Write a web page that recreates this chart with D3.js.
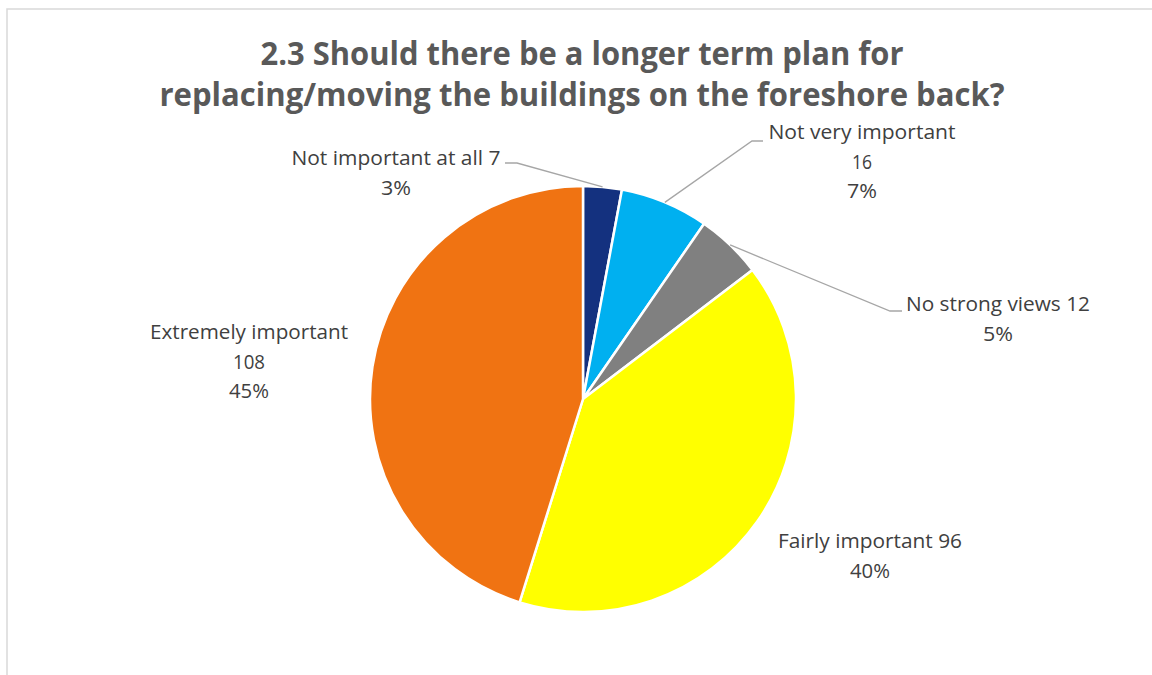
<!DOCTYPE html>
<html>
<head>
<meta charset="utf-8">
<script src="https://cdn.jsdelivr.net/npm/d3@7"></script>
<style>
  html, body { margin: 0; padding: 0; background: #ffffff; }
  svg { display: block; }
</style>
</head>
<body>
<svg id="chart" width="1152" height="675"></svg>
<script>
// Survey responses, in the order the slices run clockwise from 12 o'clock
const categories = ["Not important at all", "Not very important", "No strong views", "Fairly important", "Extremely important"];
const counts = [7, 16, 12, 96, 108];
const sliceColors = ["#14317f", "#00b0f0", "#808080", "#ffff00", "#f07312"];

// Label text lines (name, count, share) as they are printed
const labelLines = [
  ["Not important at all 7", "3%"],
  ["Not very important", "16", "7%"],
  ["No strong views 12", "5%"],
  ["Fairly important 96", "40%"],
  ["Extremely important", "108", "45%"]
];

const titleLines = [
  "2.3 Should there be a longer term plan for",
  "replacing/moving the buildings on the foreshore back?"
];

// Label placement: centre x, first baseline, line widths, optional leader elbow
const labelLayout = [
  { x: 396, y: 165, widths: [209, 30], leader: [[505, 163], [517, 163]] },
  { x: 862, y: 139, widths: [187, 20, 30], leader: [[763, 141], [752, 141]] },
  { x: 998, y: 311, widths: [184, 30], leader: [[902, 311], [890, 311]] },
  { x: 870, y: 548, widths: [184, 40] },
  { x: 249, y: 339, widths: [198, 32, 40] }
];

const svg = d3.select("#chart");
const W = 1152, H = 675;
const cx = 583, cy = 399, radius = 213;
const lineGap = 29.5;

// Outer chart frame (runs off the right and bottom edges)
svg.append("rect")
  .attr("x", 7).attr("y", 9)
  .attr("width", W + 20).attr("height", H + 20)
  .attr("fill", "#ffffff")
  .attr("stroke", "#d9d9d9")
  .attr("stroke-width", 1.5);

// Title
const titleWidths = [643, 845];
svg.append("g").selectAll("text")
  .data(titleLines)
  .join("text")
  .attr("x", 582)
  .attr("y", (d, i) => 65 + i * 40.5)
  .attr("text-anchor", "middle")
  .attr("font-family", "'Open Sans', 'Noto Sans', sans-serif")
  .attr("font-weight", 700)
  .attr("font-size", 32.5)
  .attr("fill", "#595959")
  .attr("textLength", (d, i) => titleWidths[i])
  .attr("lengthAdjust", "spacingAndGlyphs")
  .text(d => d);

// Pie
const pie = d3.pie().sort(null).value(d => d)(counts);
const arc = d3.arc().innerRadius(0).outerRadius(radius);
const edgeArc = d3.arc().innerRadius(radius).outerRadius(radius);

const g = svg.append("g").attr("transform", `translate(${cx},${cy})`);
g.selectAll("path")
  .data(pie)
  .join("path")
  .attr("d", arc)
  .attr("fill", (d, i) => sliceColors[i])
  .attr("stroke", "#ffffff")
  .attr("stroke-width", 2.5)
  .attr("stroke-linejoin", "round");

// Leader lines from the slice edge to the label
const leaderGroup = svg.append("g");
pie.forEach((d, i) => {
  const lay = labelLayout[i];
  if (!lay.leader) return;
  const [ex, ey] = edgeArc.centroid(d);
  const pts = [lay.leader[0], lay.leader[1], [cx + ex, cy + ey]];
  leaderGroup.append("path")
    .attr("d", d3.line()(pts))
    .attr("fill", "none")
    .attr("stroke", "#a6a6a6")
    .attr("stroke-width", 1.3);
});

// Data labels
const labelGroup = svg.append("g");
labelLines.forEach((lines, i) => {
  const lay = labelLayout[i];
  const t = labelGroup.append("g");
  lines.forEach((line, j) => {
    t.append("text")
      .attr("x", lay.x)
      .attr("y", lay.y + j * lineGap)
      .attr("text-anchor", "middle")
      .attr("font-family", "'Open Sans', 'Noto Sans', sans-serif")
      .attr("font-size", 20.5)
      .attr("fill", "#404040")
      .attr("textLength", lay.widths[j])
      .attr("lengthAdjust", "spacingAndGlyphs")
      .text(line);
  });
});
</script>
</body>
</html>
